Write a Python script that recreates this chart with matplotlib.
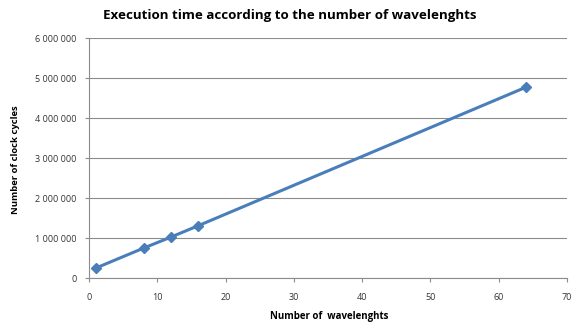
import matplotlib.pyplot as plt
from matplotlib.ticker import FuncFormatter

# Data
wavelengths = [1, 8, 12, 16, 64]
clock_cycles = [250000, 750000, 1025000, 1310000, 4775000]

x_ticks = [0, 10, 20, 30, 40, 50, 60, 70]
y_ticks = [0, 1000000, 2000000, 3000000, 4000000, 5000000, 6000000]

plt.rcParams['font.family'] = ['Open Sans', 'DejaVu Sans']

fig = plt.figure(figsize=(5.74, 3.26), dpi=100)
ax = fig.add_axes([0.155, 0.147, 0.833, 0.736])

ax.plot(wavelengths, clock_cycles, color='#4A7EBB', linewidth=2.2,
        marker='D', markersize=5, zorder=3)

ax.set_xlim(0, 70)
ax.set_ylim(0, 6000000)
ax.set_xticks(x_ticks)
ax.set_yticks(y_ticks)
ax.yaxis.set_major_formatter(FuncFormatter(lambda v, p: f'{int(v):,}'.replace(',', ' ')))

ax.grid(axis='y', color='#8C8C8C', linewidth=0.8)
ax.set_axisbelow(True)
for s in ['top', 'right']:
    ax.spines[s].set_visible(False)
for s in ['left', 'bottom']:
    ax.spines[s].set_color('#8C8C8C')
ax.tick_params(axis='both', labelsize=6.5, colors='#8C8C8C', labelcolor='#333333',
               length=3, pad=6)
ax.tick_params(axis='x', pad=8)

fig.text(0.504, 0.952, 'Execution time according to the number of wavelenghts',
         ha='center', va='center', fontsize=9.6, fontweight='bold')
fig.text(0.573, 0.028, 'Number of  wavelenghts', ha='center', va='center',
         fontsize=7, fontweight='bold')
fig.text(0.027, 0.51, 'Number of clock cycles', ha='center', va='center',
         rotation=90, fontsize=6.8, fontweight='bold')

fig.savefig('out.png', dpi=100)
